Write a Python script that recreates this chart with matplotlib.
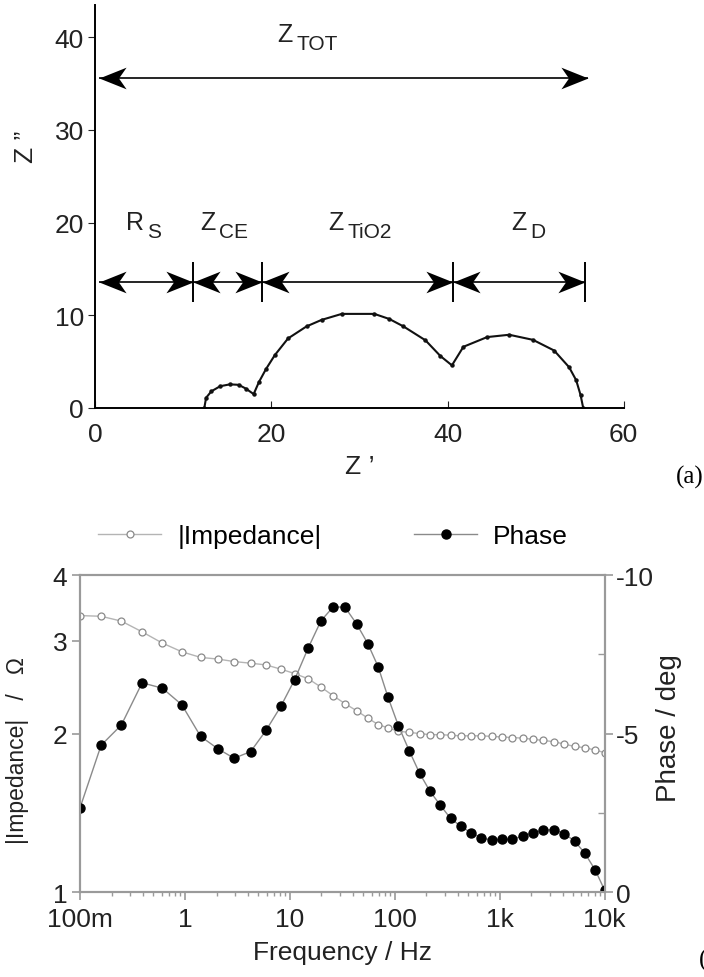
import numpy as np
import matplotlib.pyplot as plt
from matplotlib.path import Path

plt.rcParams['font.family'] = ['Liberation Sans', 'DejaVu Sans']

# ── (a) Nyquist plot data ─────────────────────────────────────────────────────
z_re = [12.4, 12.6, 13.2, 14.2, 15.3, 16.3, 17.1, 18.0, 18.6, 19.4,
        20.4, 21.9, 24.0, 25.7, 28.0, 31.7, 33.4, 35.0, 37.5, 39.2,
        40.5, 41.8, 44.5, 47.0, 49.7, 52.1, 53.8, 54.6, 55.1, 55.4]
z_im = [0.0, 1.1, 1.8, 2.35, 2.55, 2.5, 2.1, 1.5, 2.8, 4.2,
        5.7, 7.5, 8.8, 9.5, 10.15, 10.15, 9.6, 8.8, 7.3, 5.6,
        4.6, 6.6, 7.65, 7.9, 7.35, 6.2, 4.4, 3.0, 1.4, 0.0]

tot_span = [0.5, 56.0]
tot_y = 35.6
seg_bounds = [0.5, 11.1, 18.9, 40.6, 55.6]
seg_y = 13.6
seg_main = ['R', 'Z', 'Z', 'Z']
seg_sub = ['S', 'CE', 'TiO2', 'D']
seg_label_x = [3.5, 11.9, 26.5, 47.2]

# ── (b) Bode plot data ────────────────────────────────────────────────────────
freq = [0.1, 0.159, 0.248, 0.391, 0.61, 0.933, 1.41, 2.06, 2.94, 4.23,
        5.93, 8.21, 11.1, 15.0, 19.8, 25.8, 33.4, 43.2, 55.2, 69.3,
        86.2, 108, 137, 172, 216, 271, 340, 423, 531, 666,
        837, 1050, 1318, 1655, 2078, 2608, 3273, 4110, 5158, 6475,
        8128, 10000]
impedance = [3.35, 3.34, 3.27, 3.12, 2.97, 2.86, 2.79, 2.77, 2.74, 2.72,
             2.70, 2.65, 2.60, 2.54, 2.45, 2.36, 2.28, 2.21, 2.14, 2.08,
             2.05, 2.02, 2.01, 2.00, 1.99, 1.99, 1.985, 1.98, 1.98, 1.98,
             1.975, 1.97, 1.965, 1.96, 1.95, 1.94, 1.93, 1.91, 1.89, 1.88,
             1.86, 1.84]
phase = [-2.65, -4.63, -5.27, -6.60, -6.43, -5.91, -4.91, -4.52, -4.22, -4.43,
         -5.10, -5.86, -6.70, -7.71, -8.56, -8.99, -8.99, -8.46, -7.84, -7.11,
         -6.14, -5.25, -4.46, -3.75, -3.18, -2.74, -2.32, -2.08, -1.87, -1.71,
         -1.64, -1.66, -1.66, -1.77, -1.87, -1.95, -1.97, -1.84, -1.61, -1.22,
         -0.69, -0.05]

TXT = '#222222'
GREY = '#9a9a9a'


def head(direction):
    """Concave chevron arrowhead with the tip at the marker origin."""
    s = 1 if direction == 'right' else -1
    verts = [(0, 0), (-s * 1.0, 0.4), (-s * 0.72, 0), (-s * 1.0, -0.4), (0, 0)]
    codes = [Path.MOVETO, Path.LINETO, Path.LINETO, Path.LINETO, Path.CLOSEPOLY]
    return Path(verts, codes)


def double_arrow(ax, x0, x1, y):
    ax.plot([x0, x1], [y, y], color='k', lw=1.2, solid_capstyle='butt')
    ax.plot([x0], [y], marker=head('left'), ms=39, color='k', mew=0, clip_on=False)
    ax.plot([x1], [y], marker=head('right'), ms=39, color='k', mew=0, clip_on=False)


def sub_label(ax, x, y, main, sub, dx):
    ax.text(x, y, main, fontsize=18, va='baseline', ha='left', color=TXT)
    ax.annotate(sub, xy=(x, y), xytext=(dx, -6), textcoords='offset points',
                fontsize=15, va='baseline', ha='left', color=TXT)


fig = plt.figure(figsize=(7.04, 9.78), dpi=100)

# ── Top: Nyquist ──────────────────────────────────────────────────────────────
ax1 = fig.add_axes([0.135, 0.5818, 0.751, 0.412])
ax1.plot(z_re, z_im, color='#111111', lw=1.5, marker='o', ms=2.2)
ax1.set_xlim(0, 60)
ax1.set_ylim(0, 43.46)
ax1.spines['top'].set_visible(False)
ax1.spines['right'].set_visible(False)
for s in ('left', 'bottom'):
    ax1.spines[s].set_linewidth(1.4)
ax1.set_xticks([0, 20, 40, 60])
ax1.set_yticks([0, 10, 20, 30, 40])
ax1.tick_params(axis='x', direction='in', length=5, pad=10, labelsize=19, colors=TXT)
ax1.tick_params(axis='y', direction='out', length=5, pad=3, labelsize=19, colors=TXT)
ax1.set_xlabel('Z ’', fontsize=19, labelpad=6, color=TXT)
ax1.set_ylabel('Z ”', fontsize=19, color=TXT)
ax1.yaxis.set_label_coords(-0.108, 0.65)

double_arrow(ax1, tot_span[0], tot_span[1], tot_y)
sub_label(ax1, 20.7, 39.6, 'Z', 'TOT', 14)

for i in range(len(seg_bounds) - 1):
    double_arrow(ax1, seg_bounds[i], seg_bounds[i + 1], seg_y)
    sub_label(ax1, seg_label_x[i], 19.3, seg_main[i], seg_sub[i],
              15 if seg_main[i] == 'R' else 14)
ax1.vlines(seg_bounds[1:], 11.4, 15.8, color='k', lw=1.4)

fig.text(690 / 704, 1 - 477 / 978, '(a)', family='Liberation Serif', fontsize=18,
         ha='center', va='center')

# ── Bottom: Bode ──────────────────────────────────────────────────────────────
ax2 = fig.add_axes([0.1136, 0.0869, 0.7454, 0.3241])
ax3 = ax2.twinx()

l1, = ax2.plot(freq, impedance, color='#b4b4b4', lw=1.0, marker='o', ms=5,
               mfc='white', mec='#8a8a8a', mew=0.9, label='|Impedance|')
l2, = ax3.plot(freq, phase, color='#8a8a8a', lw=1.0, marker='o', ms=6.5,
               mfc='black', mec='black', label='Phase')

ax2.set_xscale('log')
ax2.set_yscale('log')
ax2.set_xlim(0.1, 10000)
ax2.set_ylim(1, 4)
ax2.set_xticks([0.1, 1, 10, 100, 1000, 10000])
ax2.set_xticklabels(['100m', '1', '10', '100', '1k', '10k'])
ax2.set_yticks([1, 2, 3, 4])
ax2.set_yticklabels(['1', '2', '3', '4'])
ax2.yaxis.set_minor_locator(plt.NullLocator())

ax3.set_ylim(0, -10)
ax3.set_yticks([-10, -5, 0])
ax3.set_yticklabels(['-10', '-5', '0'])
ax3.set_yticks([-7.5, -2.5], minor=True)

for ax in (ax2, ax3):
    for s in ax.spines.values():
        s.set_color(GREY)
        s.set_linewidth(1.5)

ax2.tick_params(axis='x', which='major', direction='out', length=6, width=1.2,
                color=GREY, labelsize=19, labelcolor=TXT, pad=5)
ax2.tick_params(axis='y', which='major', direction='out', length=6, width=1.2,
                color=GREY, labelsize=19, labelcolor=TXT, pad=3)
ax2.tick_params(axis='x', which='minor', direction='out', length=3, width=1.0,
                color=GREY)
ax3.tick_params(axis='y', which='major', direction='out', length=6, width=1.2,
                color=GREY, labelsize=19, labelcolor=TXT, pad=2)
ax3.tick_params(axis='y', which='minor', direction='in', length=5, width=1.0,
                color=GREY)

ax2.set_xlabel('Frequency / Hz', fontsize=19, labelpad=6, color=TXT)
ax2.set_ylabel('|Impedance|   /   Ω', fontsize=16.5, color=TXT)
ax2.yaxis.set_label_coords(-0.097, 0.45)
ax3.set_ylabel('Phase / deg', fontsize=20, color=TXT)
ax3.yaxis.set_label_coords(1.097, 0.52)

fig.legend([l1, l2], ['|Impedance|', 'Phase'], loc='center',
           bbox_to_anchor=(0.473, 0.451), ncol=2, frameon=False,
           handlelength=2.4, handletextpad=0.6, columnspacing=3.5, fontsize=19)

fig.text(699 / 704, 1 - 960 / 978, '(b)', family='Liberation Serif', fontsize=18,
         ha='left', va='center')

fig.savefig('out.png', dpi=100)
